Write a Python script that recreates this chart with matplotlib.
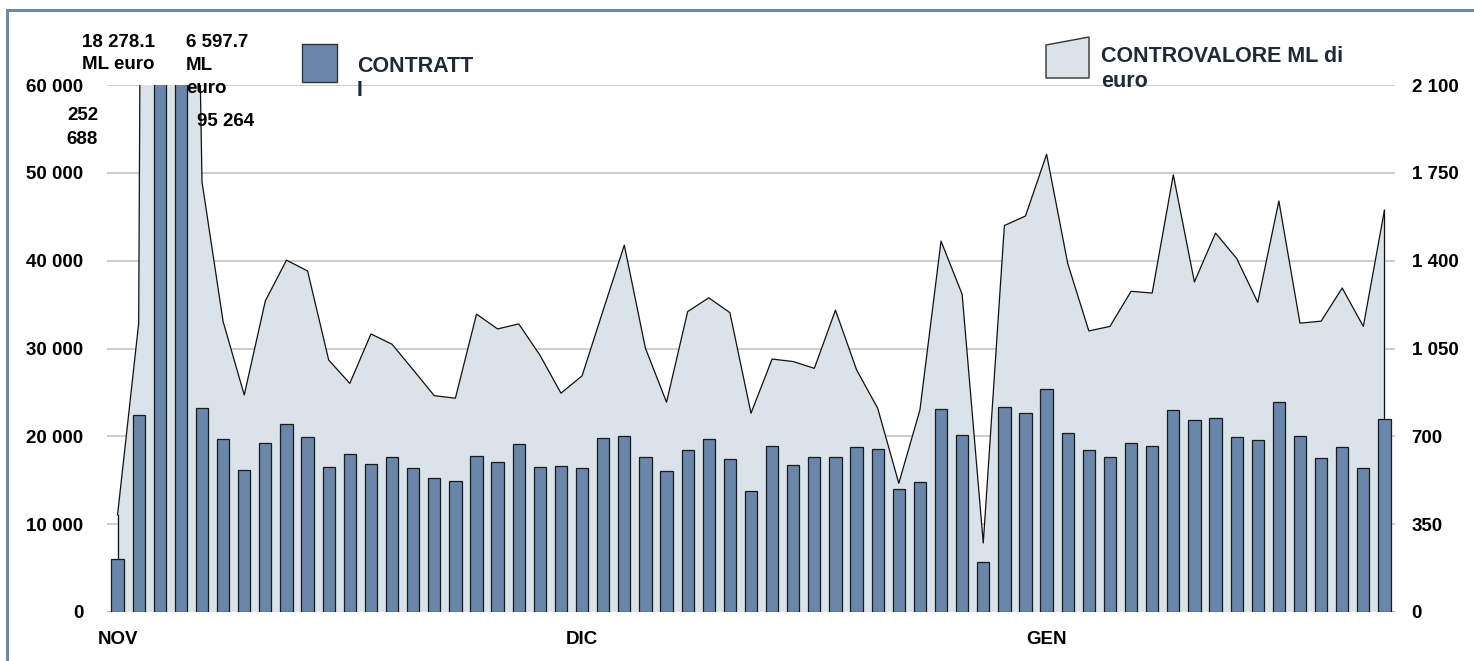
import matplotlib
matplotlib.use("Agg")
import matplotlib.pyplot as plt
from matplotlib.patches import Polygon, Rectangle
from matplotlib.lines import Line2D
import numpy as np

plt.rcParams['font.family'] = ['Liberation Sans', 'DejaVu Sans']

# ---- data ----
contratti = [6000, 22430, 252688, 95264, 23190, 19660, 16130, 19200, 21440, 19890,
             16510, 18030, 16890, 17610, 16360, 15220, 14950, 17760, 17110, 19090,
             16470, 16600, 16380, 19790, 20020, 17630, 16110, 18500, 19670, 17400,
             13720, 18880, 16680, 17630, 17630, 18760, 18610, 13950, 14820, 23160,
             20130, 5690, 23330, 22620, 25380, 20350, 18460, 17620, 19190, 18920,
             23040, 21810, 22040, 19960, 19620, 23920, 20080, 17580, 18730, 16420,
             21960]
controvalore = [387, 1150, 18278.1, 6597.7, 1714, 1157, 865, 1240, 1402, 1359,
                1004, 911, 1108, 1067, 965, 862, 852, 1187, 1128, 1148,
                1024, 872, 941, 1203, 1462, 1051, 836, 1197, 1252, 1193,
                792, 1008, 998, 971, 1203, 965, 812, 513, 805, 1478,
                1266, 275, 1540, 1578, 1824, 1389, 1120, 1138, 1278, 1271,
                1742, 1315, 1510, 1409, 1234, 1638, 1151, 1159, 1291, 1138,
                1601]
month_labels = ['NOV', 'DIC', 'GEN']
month_pos = [0, 22, 44]
left_ticks = [0, 10000, 20000, 30000, 40000, 50000, 60000]
right_ticks = [0, 350, 700, 1050, 1400, 1750, 2100]
legend_labels = ['CONTRATT\nI', 'CONTROVALORE ML di\neuro']

def fmt(v):
    return f"{v:,}".replace(",", " ")

W, H = 1474, 661
fig = plt.figure(figsize=(W / 100, H / 100), dpi=100)

def fx(px):
    return px / W

def fy(py):
    return 1 - py / H

ax = fig.add_axes([fx(107), fy(612), fx(1395) - fx(107), fy(85) - fy(612)])
ax2 = ax.twinx()

bar_color = '#6a87ab'
area_color = '#dae2ea'
grid_color = '#c8c8c8'
txt_color = '#1c2a3a'

x = np.arange(len(contratti))

# area on secondary axis, drawn below bars
ax2.fill_between(x, 0, controvalore, facecolor=area_color, edgecolor='none', zorder=2)
ax2.plot(x, controvalore, color='#111111', lw=0.9, zorder=3)
ax2.plot([x[0], x[0]], [0, controvalore[0]], color='#111111', lw=0.9, zorder=3)
ax2.plot([x[-1], x[-1]], [0, controvalore[-1]], color='#111111', lw=0.9, zorder=3)
ax2.set_ylim(0, 2100)
for t in right_ticks[1:]:
    ax2.axhline(t, color=grid_color, lw=1.3, zorder=1)
ax2.axhline(0, color='#a0a0a0', lw=1.3, zorder=1)

ax.bar(x, contratti, width=0.58, color=bar_color, edgecolor='#1a1a1a', linewidth=0.9, zorder=3)
ax.set_ylim(0, 60000)
ax.set_xlim(-0.5, len(contratti) - 0.5)

ax.set_zorder(ax2.get_zorder() + 1)
ax.patch.set_visible(False)

for a in (ax, ax2):
    for s in a.spines.values():
        s.set_visible(False)

ax.set_yticks(left_ticks)
ax.set_yticklabels([fmt(v) for v in left_ticks], fontsize=13.5, fontweight='bold')
ax.tick_params(axis='y', length=0, pad=17)
ax2.set_yticks(right_ticks)
ax2.set_yticklabels([fmt(v) for v in right_ticks], fontsize=13.5, fontweight='bold')
ax2.tick_params(axis='y', length=0, pad=12)
ax.set_xticks(month_pos)
ax.set_xticklabels(month_labels, fontsize=13.5, fontweight='bold')
ax.tick_params(axis='x', length=0, pad=14)

# annotations for clipped values
fig.text(fx(118), fy(34), "18 278.1\nML euro", ha='center', va='top',
         fontsize=13.5, fontweight='bold', linespacing=1.4)
fig.text(fx(98), fy(107), "252\n688", ha='right', va='top',
         fontsize=13.5, fontweight='bold', linespacing=1.5)
fig.text(fx(186), fy(34), "6 597.7\nML\neuro", ha='left', va='top',
         fontsize=13.5, fontweight='bold', linespacing=1.45)
fig.text(fx(197), fy(121), "95 264", ha='left', va='center',
         fontsize=13.5, fontweight='bold')

# legend
fig.add_artist(Rectangle((fx(302), fy(82)), fx(337) - fx(302), fy(44) - fy(82),
                         transform=fig.transFigure, facecolor=bar_color,
                         edgecolor='#333333', lw=1))
fig.text(fx(357), fy(56), legend_labels[0], ha='left', va='top', fontsize=15.5,
         fontweight='bold', color=txt_color, linespacing=1.2)
fig.add_artist(Polygon([(fx(1046), fy(45)), (fx(1089), fy(37)), (fx(1089), fy(78)),
                        (fx(1046), fy(78))], closed=True, transform=fig.transFigure,
                       facecolor=area_color, edgecolor='#333333', lw=1))
fig.text(fx(1101), fy(46), legend_labels[1], ha='left', va='top', fontsize=15.5,
         fontweight='bold', color=txt_color, linespacing=1.25)

# frame lines (top and left)
border = '#6d8aab'
fig.add_artist(Line2D([fx(7), 1], [fy(10), fy(10)], transform=fig.transFigure,
                      color=border, lw=2.2))
fig.add_artist(Line2D([fx(7), fx(7)], [fy(10), 0], transform=fig.transFigure,
                      color=border, lw=2.2))

fig.savefig("out.png", dpi=100)
